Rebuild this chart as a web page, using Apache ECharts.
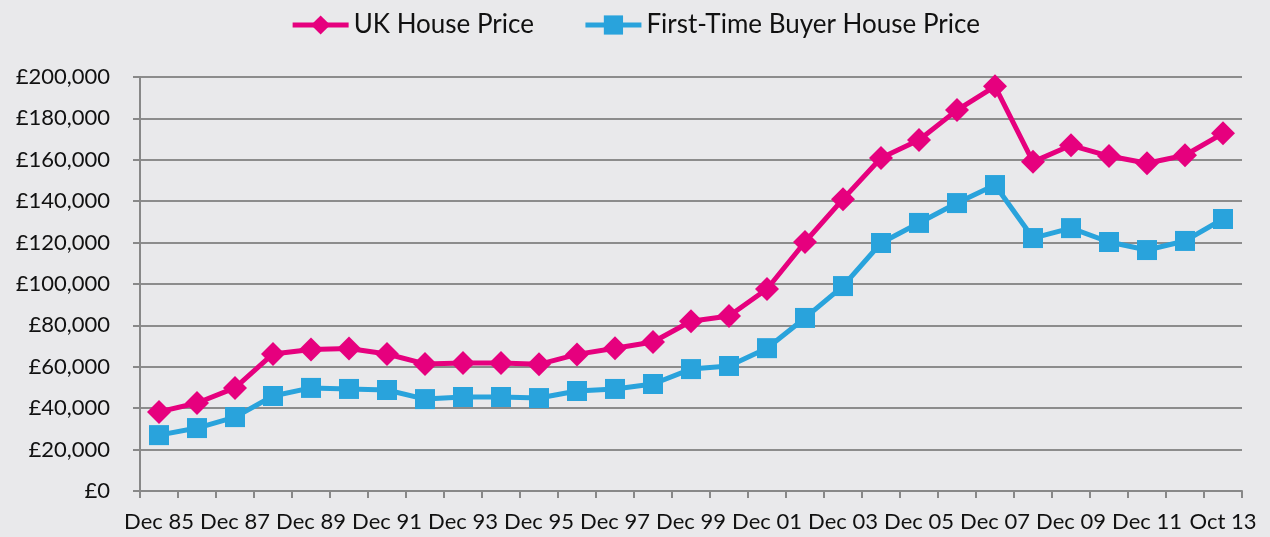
<!DOCTYPE html>
<html>
<head>
<meta charset="utf-8">
<script src="https://cdn.jsdelivr.net/npm/echarts@6/dist/echarts.min.js"></script>
<style>
html, body { margin: 0; padding: 0; background: #e9e9eb; }
#chart { width: 1270px; height: 537px; }
</style>
</head>
<body>
<div id="chart"></div>
<script>
var categories = ['Dec 85', 'Dec 86', 'Dec 87', 'Dec 88', 'Dec 89', 'Dec 90', 'Dec 91', 'Dec 92', 'Dec 93', 'Dec 94',
    'Dec 95', 'Dec 96', 'Dec 97', 'Dec 98', 'Dec 99', 'Dec 00', 'Dec 01', 'Dec 02', 'Dec 03', 'Dec 04',
    'Dec 05', 'Dec 06', 'Dec 07', 'Dec 08', 'Dec 09', 'Dec 10', 'Dec 11', 'Dec 12', 'Oct 13'];

var ukPrice = [38200, 42500, 49800, 66200, 68400, 68800, 66200, 61400, 61800, 61800,
    61200, 66000, 69000, 72000, 82000, 84500, 97600, 120300, 141000, 160900,
    169600, 184000, 195500, 159000, 167000, 161800, 158300, 162200, 172800];

var ftbPrice = [27000, 30400, 35700, 45900, 49800, 49300, 48800, 44400, 45400, 45400,
    44900, 48300, 49300, 51700, 58900, 60400, 69000, 83600, 99000, 119800,
    129500, 139100, 147800, 122200, 127000, 120300, 116400, 120800, 131400];

var dom = document.getElementById('chart');
var myChart = echarts.init(dom);
var fontName = 'Lato, "Open Sans", sans-serif';

var option = {
    backgroundColor: '#e9e9eb',
    textStyle: { fontFamily: fontName },
    legend: {
        top: 7,
        left: 'center',
        itemWidth: 56,
        itemHeight: 24,
        itemGap: 49,
        lineStyle: { width: 5 },
        textStyle: { fontSize: 26, color: '#111', fontFamily: fontName },
        data: ['UK House Price', 'First-Time Buyer House Price']
    },
    grid: { left: 140, right: 28, top: 77, bottom: 46 },
    xAxis: {
        type: 'category',
        data: categories,
        boundaryGap: true,
        axisLine: { lineStyle: { color: '#888', width: 2 } },
        axisTick: { show: true, length: 7, interval: 0, lineStyle: { color: '#888', width: 2 } },
        axisLabel: { interval: 1, fontSize: 22, color: '#111', margin: 20, fontFamily: fontName }
    },
    yAxis: {
        type: 'value',
        min: 0,
        max: 200000,
        interval: 20000,
        axisLine: { show: true, lineStyle: { color: '#888', width: 2 } },
        axisTick: { show: true, length: 7, lineStyle: { color: '#888', width: 2 } },
        splitLine: { show: true, lineStyle: { color: '#8c8c8c', width: 2 } },
        axisLabel: {
            fontSize: 22, color: '#111', margin: 30, fontFamily: fontName,
            formatter: function (v) {
                return '£' + v.toLocaleString('en-GB');
            }
        }
    },
    series: [
        {
            name: 'UK House Price',
            type: 'line',
            data: ukPrice,
            symbol: 'diamond',
            symbolSize: 24,
            lineStyle: { width: 5, color: '#e6007e' },
            itemStyle: { color: '#e6007e' },
            animation: false
        },
        {
            name: 'First-Time Buyer House Price',
            type: 'line',
            data: ftbPrice,
            symbol: 'rect',
            symbolSize: 20,
            lineStyle: { width: 5, color: '#29a3dc' },
            itemStyle: { color: '#29a3dc' },
            animation: false
        }
    ]
};

if (option && typeof option === 'object') {
    myChart.setOption(option, true);
}
</script>
</body>
</html>
